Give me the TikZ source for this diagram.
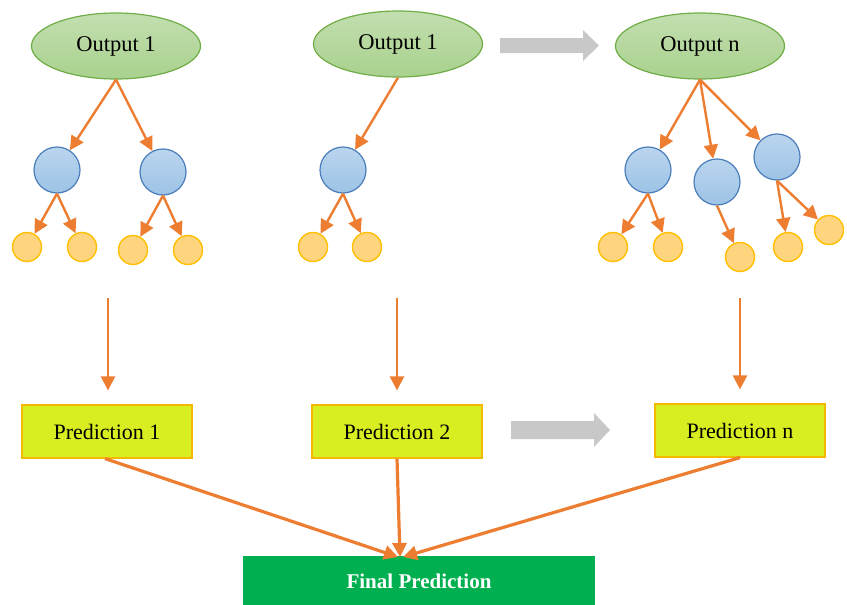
\documentclass[tikz,border=0pt]{standalone}
\usepackage{fontspec}
\setmainfont{Liberation Serif}
\usetikzlibrary{shapes.geometric,arrows.meta}
\definecolor{ograng}{HTML}{ED7D31}
\definecolor{ellfill}{HTML}{A9D18E}
\definecolor{ellline}{HTML}{70AD47}
\definecolor{bluefill}{HTML}{9DC3E6}
\definecolor{blueline}{HTML}{4A7EBB}
\definecolor{yelfill}{HTML}{FFD47F}
\definecolor{yelline}{HTML}{FFC000}
\definecolor{predfill}{HTML}{D9EE21}
\definecolor{predline}{HTML}{F5B800}
\definecolor{finfill}{HTML}{00B050}
\definecolor{grayarr}{HTML}{C8C8C8}
\tikzset{
  outnode/.style={ellipse, draw=ellline, line width=1.2pt, top color=ellfill!70!white, bottom color=ellfill,
    minimum width=169pt, minimum height=66pt, inner sep=0pt, font=\fontsize{22.5}{24}\selectfont},
  bnode/.style={circle, draw=blueline, line width=1.2pt, top color=bluefill!70!white, bottom color=bluefill,
    minimum size=46pt, inner sep=0pt},
  lnode/.style={circle, draw=yelline, line width=1.4pt, fill=yelfill, minimum size=29pt, inner sep=0pt},
  prednode/.style={rectangle, draw=predline, line width=1.2pt, fill=predfill, minimum width=170pt,
    minimum height=53pt, inner sep=0pt, font=\fontsize{22}{24}\selectfont},
  finnode/.style={rectangle, fill=finfill, minimum width=352pt, minimum height=50pt, inner sep=0pt,
    text=white, font=\fontsize{21}{23}\selectfont\bfseries},
  oarr/.style={draw=ograng, line width=2.4pt, -{Triangle[length=14pt,width=14pt]}},
  barr/.style={draw=ograng, line width=3.2pt, -{Triangle[length=14pt,width=14pt]}},
  garr/.style={fill=grayarr},
}
\begin{document}
\begin{tikzpicture}[x=1pt,y=-1pt]
\useasboundingbox (0,0) rectangle (847,605);
\fill[white] (0,0) rectangle (847,605);
% top ellipses
\node[outnode] (o1) at (116,46) {Output 1};
\node[outnode] (o2) at (398,44) {Output 1};
\node[outnode] (o3) at (700,46) {Output n};
% tree 1
\node[bnode] (b11) at (57,170) {};
\node[bnode] (b12) at (163,172) {};
\node[lnode] (l11) at (27,247) {};
\node[lnode] (l12) at (82,247) {};
\node[lnode] (l13) at (133,250) {};
\node[lnode] (l14) at (188,250) {};
\draw[oarr] (o1.south) -- (b11);
\draw[oarr] (o1.south) -- (b12);
\draw[oarr] (b11.south) -- (l11);
\draw[oarr] (b11.south) -- (l12);
\draw[oarr] (b12.south) -- (l13);
\draw[oarr] (b12.south) -- (l14);
% tree 2
\node[bnode] (b21) at (343,170) {};
\node[lnode] (l21) at (313,247) {};
\node[lnode] (l22) at (367,247) {};
\draw[oarr] (o2.south) -- (b21);
\draw[oarr] (b21.south) -- (l21);
\draw[oarr] (b21.south) -- (l22);
% tree 3
\node[bnode] (b31) at (648,170) {};
\node[bnode] (b32) at (717,182) {};
\node[bnode] (b33) at (777,157) {};
\node[lnode] (l31) at (613,247) {};
\node[lnode] (l32) at (668,247) {};
\node[lnode] (l33) at (740,257) {};
\node[lnode] (l34) at (788,247) {};
\node[lnode] (l35) at (829,230) {};
\draw[oarr] (o3.south) -- (b31);
\draw[oarr] (o3.south) -- (b32);
\draw[oarr] (o3.south) -- (b33);
\draw[oarr] (b31.south) -- (l31);
\draw[oarr] (b31.south) -- (l32);
\draw[oarr] (b32.south) -- (l33);
\draw[oarr] (b33.south) -- (l34);
\draw[oarr] (b33.south) -- (l35);
% gray arrows
\path[garr] (500,38) -- (583,38) -- (583,30) -- (599,45.5) -- (583,61) -- (583,53) -- (500,53) -- cycle;
\path[garr] (511,421) -- (594,421) -- (594,413) -- (610,430) -- (594,447) -- (594,439) -- (511,439) -- cycle;
% predictions
\node[prednode] (p1) at (107,431.5) {Prediction 1};
\node[prednode] (p2) at (397,431.5) {Prediction 2};
\node[prednode] (p3) at (740,430.5) {Prediction n};
\coordinate (v1) at (108,298);
\coordinate (v2) at (397,298);
\coordinate (v3) at (740,298);
\draw[oarr, shorten >=14pt] (v1) -- (v1 |- p1.north);
\draw[oarr, shorten >=14pt] (v2) -- (v2 |- p2.north);
\draw[oarr, shorten >=14pt] (v3) -- (v3 |- p3.north);
% final
\node[finnode] (f) at (419,581) {Final Prediction};
\coordinate (fa) at (398,557);
\coordinate (fb) at (400,557);
\coordinate (fc) at (403,557);
\draw[barr] ([xshift=-2pt]p1.south) -- (fa);
\draw[barr] (p2.south) -- (fb);
\draw[barr] (p3.south) -- (fc);
\end{tikzpicture}
\end{document}
